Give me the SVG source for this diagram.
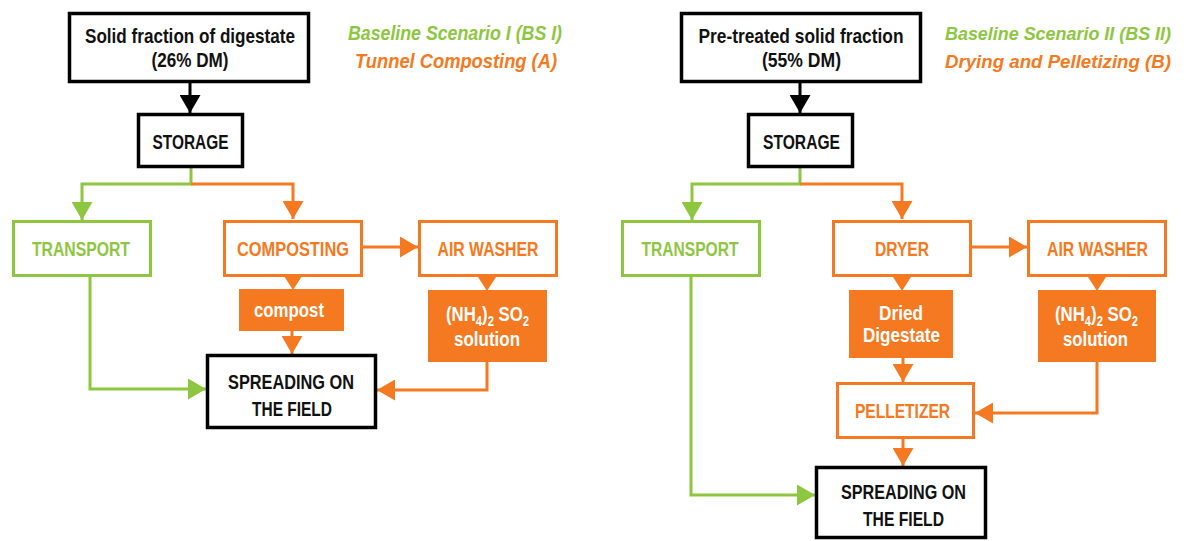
<svg xmlns="http://www.w3.org/2000/svg" width="1189" height="541" viewBox="0 0 1189 541">
<style>
text{font-family:"Liberation Sans",Arial,sans-serif;font-weight:bold;font-size:21px;text-anchor:middle}
.title{font-style:italic;font-size:21px}
.t2{font-size:19px}
.g{fill:#8DC63F}.o{fill:#F47920}.w{fill:#ffffff}.k{fill:#111111}
.bk{fill:#fff;stroke:#000;stroke-width:3.5}
.bg{fill:#fff;stroke:#8DC63F;stroke-width:3}
.bo{fill:#fff;stroke:#F47920;stroke-width:3}
.bf{fill:#F47920;stroke:none}
.ck{fill:none;stroke:#000;stroke-width:3;marker-end:url(#ak)}
.cg{fill:none;stroke:#8DC63F;stroke-width:3;marker-end:url(#ag)}
.co{fill:none;stroke:#F47920;stroke-width:3;marker-end:url(#ao)}
.cs{fill:none;stroke:none;marker-end:url(#as)}
.sub{font-size:14px}
</style>
<defs>
<marker id="ak" viewBox="0 0 18 21" refX="18" refY="10.5" markerWidth="18" markerHeight="21" markerUnits="userSpaceOnUse" orient="auto"><path d="M0,0 L18,10.5 L0,21 z" fill="#000"/></marker>
<marker id="ag" viewBox="0 0 18 21" refX="18" refY="10.5" markerWidth="18" markerHeight="21" markerUnits="userSpaceOnUse" orient="auto"><path d="M0,0 L18,10.5 L0,21 z" fill="#8DC63F"/></marker>
<marker id="ao" viewBox="0 0 18 21" refX="18" refY="10.5" markerWidth="18" markerHeight="21" markerUnits="userSpaceOnUse" orient="auto"><path d="M0,0 L18,10.5 L0,21 z" fill="#F47920"/></marker>
<marker id="as" viewBox="0 0 14 18" refX="14" refY="9" markerWidth="14" markerHeight="18" markerUnits="userSpaceOnUse" orient="auto"><path d="M0,0 L14,9 L0,18 z" fill="#F47920"/></marker>
</defs>

<g id="connectors">
<!-- left -->
<path class="ck" d="M190,83 L190,113"/>
<path class="cg" d="M191,168 L191,184 L82,184 L82,220"/>
<path class="co" d="M191,184 L293,184 L293,219"/>
<path class="co" d="M363,247 L418,247"/>
<path class="cs" d="M293,276 L293,290"/>
<path class="co" d="M292,331 L292,354"/>
<path class="cs" d="M487,276 L487,291"/>
<path class="co" d="M487,362 L487,390 L377,390"/>
<path class="cg" d="M90,277 L90,389 L206,389"/>
<!-- right -->
<path class="ck" d="M800,83 L800,113"/>
<path class="cg" d="M800,168 L800,184 L692,184 L692,220"/>
<path class="co" d="M800,184 L902,184 L902,219"/>
<path class="co" d="M972,247 L1027,247"/>
<path class="cs" d="M902,276 L902,291"/>
<path class="cs" d="M1097,276 L1097,291"/>
<path class="co" d="M903,358 L903,382"/>
<path class="co" d="M1097,362 L1097,413 L975,413"/>
<path class="co" d="M903,439 L903,466"/>
<path class="cg" d="M691,277 L691,495 L815,495"/>
</g>

<g id="titles">
<text class="title g" x="455" y="40" textLength="214" lengthAdjust="spacingAndGlyphs">Baseline Scenario I (BS I)</text>
<text class="title o" x="456" y="68" textLength="202" lengthAdjust="spacingAndGlyphs">Tunnel Composting (A)</text>
<text class="title t2 g" x="1058" y="40" textLength="226" lengthAdjust="spacingAndGlyphs">Baseline Scenario II (BS II)</text>
<text class="title t2 o" x="1058" y="68" textLength="226" lengthAdjust="spacingAndGlyphs">Drying and Pelletizing (B)</text>
</g>

<!-- left scenario -->
<g id="solid-fraction">
<rect class="bk" x="69.5" y="13.5" width="239" height="68"/>
<text class="k" x="190" y="43" font-size="20" textLength="210" lengthAdjust="spacingAndGlyphs">Solid fraction of digestate</text>
<text class="k" x="190" y="67" font-size="20" textLength="77" lengthAdjust="spacingAndGlyphs">(26% DM)</text>
</g>
<g id="storage-1">
<rect class="bk" x="138.5" y="114.5" width="104" height="52"/>
<text class="k" x="190.5" y="149" textLength="76" lengthAdjust="spacingAndGlyphs">STORAGE</text>
</g>
<g id="transport-1">
<rect class="bg" x="13.5" y="221.5" width="137" height="54"/>
<text class="g" x="81" y="256" textLength="98" lengthAdjust="spacingAndGlyphs">TRANSPORT</text>
</g>
<g id="composting">
<rect class="bo" x="224.5" y="221.5" width="137" height="54"/>
<text class="o" x="293" y="256" textLength="112" lengthAdjust="spacingAndGlyphs">COMPOSTING</text>
</g>
<g id="airwasher-1">
<rect class="bo" x="419.5" y="221.5" width="137" height="54"/>
<text class="o" x="488" y="256" textLength="101" lengthAdjust="spacingAndGlyphs">AIR WASHER</text>
</g>
<g id="compost">
<rect class="bf" x="239" y="289" width="105" height="42"/>
<text class="w" x="289" y="317" textLength="70" lengthAdjust="spacingAndGlyphs">compost</text>
</g>
<g id="ammonium-1">
<rect class="bf" x="428" y="290" width="119" height="72"/>
<text class="w" transform="translate(487.5,321) scale(0.8,1)" x="0" y="0">(NH<tspan class="sub" dy="5">4</tspan><tspan dy="-5">)</tspan><tspan class="sub" dy="5">2</tspan><tspan dy="-5"> SO</tspan><tspan class="sub" dy="5">2</tspan></text>
<text class="w" x="487" y="346" textLength="66" lengthAdjust="spacingAndGlyphs">solution</text>
</g>
<g id="spreading-1">
<rect class="bk" x="207.5" y="355.5" width="168" height="72"/>
<text class="k" x="291" y="389" textLength="126" lengthAdjust="spacingAndGlyphs">SPREADING ON</text>
<text class="k" x="292" y="416" textLength="80" lengthAdjust="spacingAndGlyphs">THE FIELD</text>
</g>

<!-- right scenario -->
<g id="pretreated">
<rect class="bk" x="681.5" y="13.5" width="239" height="68"/>
<text class="k" x="801" y="43" font-size="20" textLength="205" lengthAdjust="spacingAndGlyphs">Pre-treated solid fraction</text>
<text class="k" x="801.5" y="67" font-size="20" textLength="79" lengthAdjust="spacingAndGlyphs">(55% DM)</text>
</g>
<g id="storage-2">
<rect class="bk" x="748.5" y="114.5" width="104" height="52"/>
<text class="k" x="801.5" y="149" textLength="77" lengthAdjust="spacingAndGlyphs">STORAGE</text>
</g>
<g id="transport-2">
<rect class="bg" x="622.5" y="221.5" width="137" height="54"/>
<text class="g" x="690" y="256" textLength="97" lengthAdjust="spacingAndGlyphs">TRANSPORT</text>
</g>
<g id="dryer">
<rect class="bo" x="833.5" y="221.5" width="137" height="54"/>
<text class="o" x="902" y="256" textLength="54" lengthAdjust="spacingAndGlyphs">DRYER</text>
</g>
<g id="airwasher-2">
<rect class="bo" x="1028.5" y="221.5" width="137" height="54"/>
<text class="o" x="1097.5" y="256" textLength="101" lengthAdjust="spacingAndGlyphs">AIR WASHER</text>
</g>
<g id="dried-digestate">
<rect class="bf" x="849" y="290" width="104" height="68"/>
<text class="w" x="901" y="320" textLength="44" lengthAdjust="spacingAndGlyphs">Dried</text>
<text class="w" x="901.5" y="342" textLength="77" lengthAdjust="spacingAndGlyphs">Digestate</text>
</g>
<g id="ammonium-2">
<rect class="bf" x="1038" y="290" width="118" height="72"/>
<text class="w" transform="translate(1096.5,321) scale(0.8,1)" x="0" y="0">(NH<tspan class="sub" dy="5">4</tspan><tspan dy="-5">)</tspan><tspan class="sub" dy="5">2</tspan><tspan dy="-5"> SO</tspan><tspan class="sub" dy="5">2</tspan></text>
<text class="w" x="1095.5" y="346" textLength="65" lengthAdjust="spacingAndGlyphs">solution</text>
</g>
<g id="pelletizer">
<rect class="bo" x="837.5" y="383.5" width="136" height="54"/>
<text class="o" x="902.5" y="418" textLength="95" lengthAdjust="spacingAndGlyphs">PELLETIZER</text>
</g>
<g id="spreading-2">
<rect class="bk" x="816.5" y="467.5" width="169" height="70"/>
<text class="k" x="903.5" y="499" textLength="125" lengthAdjust="spacingAndGlyphs">SPREADING ON</text>
<text class="k" x="903.5" y="526" textLength="81" lengthAdjust="spacingAndGlyphs">THE FIELD</text>
</g>
</svg>
